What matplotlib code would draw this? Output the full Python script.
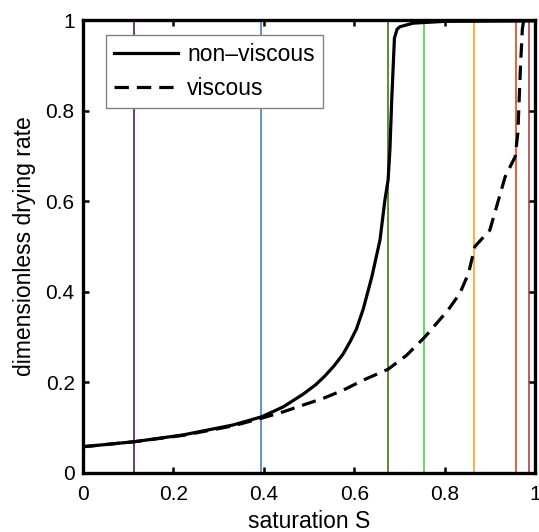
import matplotlib
matplotlib.use("Agg")
import matplotlib.pyplot as plt

plt.rcParams['font.family'] = ['Liberation Sans', 'DejaVu Sans']

# Non-viscous curve (saturation S, dimensionless drying rate)
s_nonviscous = [0.0, 0.113, 0.221, 0.332, 0.395, 0.443, 0.487, 0.515, 0.535,
                0.555, 0.575, 0.591, 0.605, 0.620, 0.639, 0.657, 0.668, 0.675,
                0.679, 0.683, 0.689, 0.695, 0.701, 0.730, 0.80, 1.0]
r_nonviscous = [0.058, 0.069, 0.084, 0.106, 0.124, 0.146, 0.174, 0.195, 0.214,
                0.236, 0.262, 0.290, 0.318, 0.362, 0.433, 0.514, 0.603, 0.647,
                0.713, 0.823, 0.960, 0.980, 0.985, 0.993, 0.997, 0.998]

# Viscous curve
s_viscous = [0.0, 0.113, 0.221, 0.332, 0.395, 0.443, 0.487, 0.532, 0.576,
             0.620, 0.675, 0.716, 0.757, 0.782, 0.808, 0.834, 0.853, 0.867,
             0.900, 0.915, 0.934, 0.956, 0.962, 0.968, 0.972, 0.975]
r_viscous = [0.058, 0.069, 0.083, 0.104, 0.121, 0.135, 0.150, 0.165, 0.183,
             0.205, 0.229, 0.260, 0.301, 0.330, 0.360, 0.397, 0.441, 0.500,
             0.536, 0.588, 0.654, 0.698, 0.750, 0.900, 0.980, 1.0]

# Vertical marker lines
vline_s = [0.113, 0.394, 0.675, 0.755, 0.866, 0.957, 0.987]
vline_colors = ['#5b1a5e', '#4a80b8', '#3d7a0f', '#44d844', '#ff9f1a', '#e8401c', '#b84040']

xticks = [0, 0.2, 0.4, 0.6, 0.8, 1]
xtick_labels = ['0', '0.2', '0.4', '0.6', '0.8', '1']
yticks = [0, 0.2, 0.4, 0.6, 0.8, 1]
ytick_labels = ['0', '0.2', '0.4', '0.6', '0.8', '1']

fig = plt.figure(figsize=(5.39, 5.32), dpi=100)
ax = fig.add_axes([83/539, 1-473/532, (535-83)/539, (473-20)/532])

for s, c in zip(vline_s, vline_colors):
    ax.axvline(s, color=c, lw=1.2, zorder=1)

ax.plot(s_nonviscous, r_nonviscous, color='black', lw=2.3, label='non\u2013viscous', zorder=3)
ax.plot(s_viscous, r_viscous, color='black', lw=2.3, dashes=(4.5, 2.5), label='viscous', zorder=3)

ax.set_xlim(0, 1)
ax.set_ylim(0, 1)
ax.set_xticks(xticks)
ax.set_xticklabels(xtick_labels)
ax.set_yticks(yticks)
ax.set_yticklabels(ytick_labels)
ax.tick_params(direction='in', length=4, width=1.8, top=True, right=True,
               labelsize=15, colors='black')
ax.tick_params(axis='x', pad=9)
ax.tick_params(axis='y', pad=6)
for sp in ax.spines.values():
    sp.set_linewidth(2.4)

ax.set_xlabel('saturation S', fontsize=16.5, labelpad=4)
ax.set_ylabel('dimensionless drying rate', fontsize=16.5, labelpad=7)

leg = ax.legend(loc='upper left', bbox_to_anchor=(0.051, 0.967), fontsize=16.5,
                frameon=True, fancybox=False, edgecolor='#808080', framealpha=1,
                handlelength=2.8, handletextpad=0.4, borderpad=0.35,
                labelspacing=0.5, borderaxespad=0)
leg.get_frame().set_linewidth(1.0)

fig.savefig('out.png', dpi=100)
